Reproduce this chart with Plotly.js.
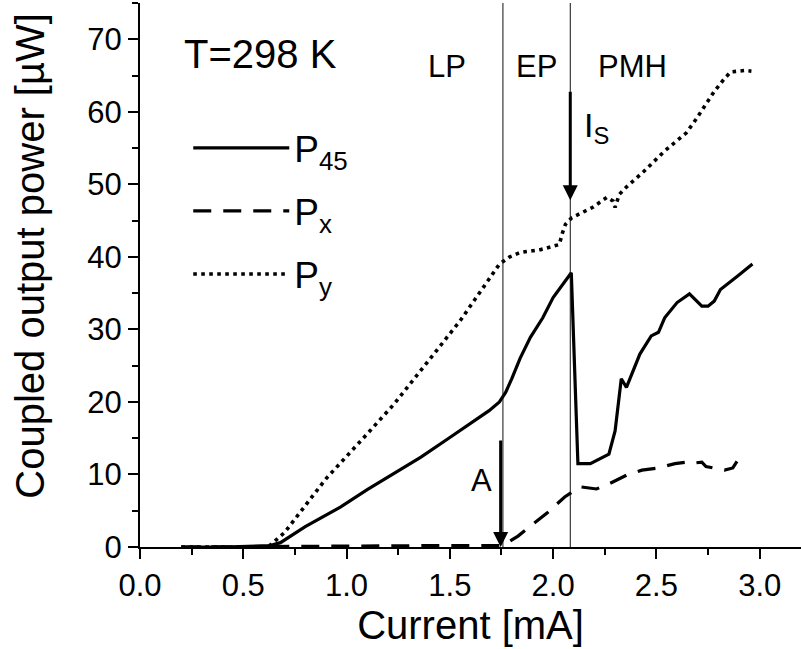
<!DOCTYPE html>
<html>
<head>
<meta charset="utf-8">
<script src="https://cdn.plot.ly/plotly-3.0.1.min.js"></script>
<style>html,body{margin:0;padding:0;background:#fff;}#chart{width:801px;height:649px;}</style>
</head>
<body>
<div id="chart"></div>
<script>
// Current [mA] and coupled output power [µW]
const currentP45 = [0.20, 0.40, 0.63, 0.68, 0.80, 0.97, 1.10, 1.26, 1.36, 1.50, 1.60, 1.69, 1.74, 1.77, 1.80, 1.84, 1.89, 1.95, 2.00, 2.05, 2.088, 2.12, 2.18, 2.27, 2.30, 2.33, 2.355, 2.42, 2.475, 2.51, 2.54, 2.60, 2.66, 2.72, 2.75, 2.78, 2.81, 2.895, 2.965];
const powerP45   = [0, 0, 0.2, 0.6, 2.8, 5.5, 7.9, 10.6, 12.4, 15.1, 17.0, 18.8, 20.0, 21.3, 23.2, 26.0, 28.9, 31.6, 34.4, 36.4, 37.8, 11.5, 11.5, 12.8, 16.0, 23.2, 22.0, 26.6, 29.1, 29.6, 31.6, 33.7, 34.9, 33.2, 33.2, 33.9, 35.5, 37.4, 39.0];

const currentPx = [0.20, 0.65, 1.00, 1.50, 1.74, 1.774, 1.83, 1.895, 1.975, 2.056, 2.13, 2.21, 2.27, 2.355, 2.43, 2.51, 2.59, 2.67, 2.69, 2.72, 2.74, 2.83, 2.87, 2.89];
const powerPx   = [0, 0.1, 0.15, 0.2, 0.2, 0.5, 1.5, 3.0, 4.8, 6.9, 8.3, 8.0, 8.7, 9.9, 10.6, 10.9, 11.5, 11.8, 11.6, 11.7, 11.1, 10.6, 10.9, 11.8];

const currentPy = [0.20, 0.62, 0.70, 0.90, 1.10, 1.23, 1.40, 1.55, 1.65, 1.74, 1.79, 1.84, 1.94, 2.00, 2.03, 2.045, 2.06, 2.09, 2.19, 2.26, 2.29, 2.30, 2.32, 2.35, 2.44, 2.54, 2.645, 2.69, 2.74, 2.78, 2.83, 2.86, 2.93, 2.96];
const powerPy   = [0, 0, 2.0, 9.4, 15.6, 19.7, 25.8, 31.2, 35.3, 39.0, 40.0, 40.6, 41.0, 41.4, 41.7, 43.3, 44.5, 45.4, 46.8, 48.2, 47.7, 46.8, 48.6, 49.5, 51.8, 54.6, 57.1, 58.9, 61.0, 62.8, 64.6, 65.5, 65.7, 65.6];

const seriesNames = ['P<sub>45</sub>', 'P<sub>x</sub>', 'P<sub>y</sub>'];
const regionBoundaries = [1.757, 2.083];        // LP|EP and EP|PMH borders [mA]
const regionLabels = ['LP', 'EP', 'PMH'];
const regionLabelX = [1.486, 1.921, 2.386];
const markerA = {x: 1.746, y: 0, label: 'A'};
const markerIs = {x: 2.083, y: 47.8, label: 'I<sub>S</sub>'};
const tempLabel = 'T=298 K';
const xTickVals = [0, 0.5, 1.0, 1.5, 2.0, 2.5, 3.0];
const xTickText = ['0.0', '0.5', '1.0', '1.5', '2.0', '2.5', '3.0'];
const yTickVals = [0, 10, 20, 30, 40, 50, 60, 70];

const FONT = 'Liberation Sans, Arial, sans-serif';

const traces = [
  {x: currentP45, y: powerP45, name: seriesNames[0], legendgroup: 'a', mode: 'lines',
   line: {color: '#000', width: 3.2}},
  {x: currentPx, y: powerPx, name: seriesNames[1], legendgroup: 'b', mode: 'lines',
   line: {color: '#000', width: 3.2, dash: '18px,12px'}},
  {x: currentPy, y: powerPy, name: seriesNames[2], legendgroup: 'c', mode: 'lines',
   line: {color: '#000', width: 3.6, dash: '3.6px,4.4px'}}
];

const shapes = regionBoundaries.map(b => ({
  type: 'line', xref: 'x', yref: 'paper', x0: b, x1: b, y0: 0, y1: 1,
  line: {color: '#111', width: 1}
}));

const annotations = [
  {text: tempLabel, xref: 'paper', yref: 'paper', x: 0.064, y: 0.906, xanchor: 'left', yanchor: 'middle',
   showarrow: false, font: {family: FONT, size: 40, color: '#000'}},
  ...regionLabels.map((t, i) => ({text: t, xref: 'x', yref: 'y', x: regionLabelX[i], y: 66.2,
   xanchor: 'center', yanchor: 'middle', showarrow: false, font: {family: FONT, size: 31, color: '#000'}})),
  {text: '', xref: 'x', yref: 'y', x: markerIs.x, y: markerIs.y, ax: 0, ay: -110, axref: 'pixel', ayref: 'pixel',
   showarrow: true, arrowhead: 2, arrowsize: 1, arrowwidth: 3, arrowcolor: '#000', standoff: 0},
  {text: markerIs.label, xref: 'x', yref: 'y', x: 2.212, y: 57.8, xanchor: 'center', yanchor: 'middle',
   showarrow: false, font: {family: FONT, size: 34, color: '#000'}},
  {text: '', xref: 'x', yref: 'y', x: markerA.x, y: markerA.y, ax: 0, ay: -108, axref: 'pixel', ayref: 'pixel',
   showarrow: true, arrowhead: 2, arrowsize: 1, arrowwidth: 3, arrowcolor: '#000', standoff: 0},
  {text: markerA.label, xref: 'x', yref: 'y', x: 1.655, y: 9.2, xanchor: 'center', yanchor: 'middle',
   showarrow: false, font: {family: FONT, size: 31, color: '#000'}},
  {text: 'Coupled output power [µW]', xref: 'paper', yref: 'paper', x: -0.166, y: 0.536,
   xanchor: 'center', yanchor: 'middle', textangle: -90, showarrow: false,
   font: {family: FONT, size: 40, color: '#000'}}
];

const layout = {
  width: 801, height: 649,
  margin: {l: 140, r: 0, t: 3, b: 102, pad: 0},
  paper_bgcolor: '#fff', plot_bgcolor: '#fff',
  font: {family: FONT, color: '#000'},
  showlegend: true,
  legend: {x: 0.073, y: 0.79, xanchor: 'left', yanchor: 'top', bgcolor: 'rgba(0,0,0,0)',
           font: {family: FONT, size: 37, color: '#000'}, itemwidth: 96, tracegroupgap: 12,
           traceorder: 'grouped'},
  xaxis: {range: [0, 3.2], tickmode: 'array', tickvals: xTickVals, ticktext: xTickText,
          ticks: 'outside', ticklen: 10, tickwidth: 2, tickcolor: '#000',
          minor: {dtick: 0.25, ticks: 'outside', ticklen: 6, tickwidth: 2, tickcolor: '#000', showgrid: false},
          showline: true, linewidth: 2, linecolor: '#000', showgrid: false, zeroline: false,
          tickfont: {family: FONT, size: 31, color: '#000'}, automargin: false,
          title: {text: 'Current [mA]', font: {family: FONT, size: 40, color: '#000'}, standoff: 8}},
  yaxis: {range: [0, 75], tickmode: 'array', tickvals: yTickVals,
          ticks: 'outside', ticklen: 10, tickwidth: 2, tickcolor: '#000',
          minor: {dtick: 5, ticks: 'outside', ticklen: 6, tickwidth: 2, tickcolor: '#000', showgrid: false},
          showline: true, linewidth: 2, linecolor: '#000', showgrid: false, zeroline: false,
          tickfont: {family: FONT, size: 31, color: '#000'}, automargin: false},
  xaxis2: {overlaying: 'x', side: 'top', anchor: 'y', range: [0, 3.2], tickmode: 'linear', tick0: 0, dtick: 0.323,
           ticks: 'inside', ticklen: 9, tickwidth: 2, tickcolor: '#000', showticklabels: false,
           showline: true, linewidth: 2, linecolor: '#000', showgrid: false, zeroline: false, automargin: false},
  yaxis2: {overlaying: 'y', side: 'right', anchor: 'x', range: [0, 75], tickmode: 'linear', tick0: 0, dtick: 15,
           ticks: 'inside', ticklen: 5, tickwidth: 2, tickcolor: '#000', showticklabels: false,
           showline: false, showgrid: false, zeroline: false, automargin: false},
  shapes: shapes,
  annotations: annotations
};

Plotly.newPlot('chart', traces, layout, {displayModeBar: false, staticPlot: true});
</script>
</body>
</html>
